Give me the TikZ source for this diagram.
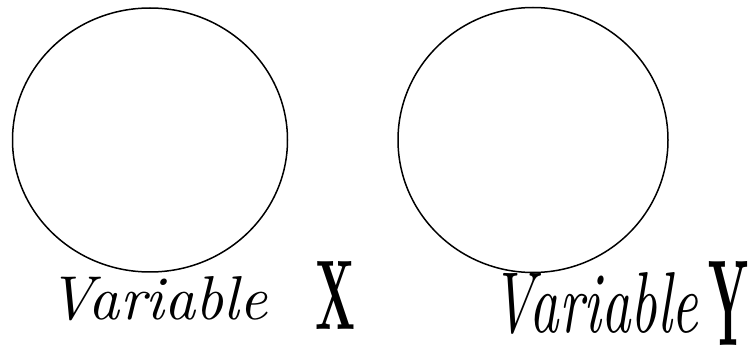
\documentclass[tikz,border=0pt]{standalone}
\usetikzlibrary{shapes.geometric}
\begin{document}
\begin{tikzpicture}[x=1pt,y=1pt,
  blob/.style={draw=black, line width=1.5pt, ellipse, inner sep=0pt},
  lab/.style={inner sep=0pt, anchor=base west}]
\useasboundingbox (0,0) rectangle (756,354);
\node[blob, minimum width=275pt, minimum height=264pt] (cx) at (150,214) {};
\node[blob, minimum width=270pt, minimum height=265pt] (cy) at (533,214) {};
\node[lab] (lx) at (48,34) {\resizebox{219pt}{43pt}{\itshape Variable}};
\node[lab] (xx) at (315,24) {\resizebox{40pt}{68pt}{\bfseries X}};
\node[lab] (ly) at (491,21) {\resizebox{207pt}{60pt}{\itshape Variable}};
\node[lab] (yy) at (708,8) {\resizebox{40pt}{84pt}{\bfseries Y}};
\end{tikzpicture}
\end{document}
